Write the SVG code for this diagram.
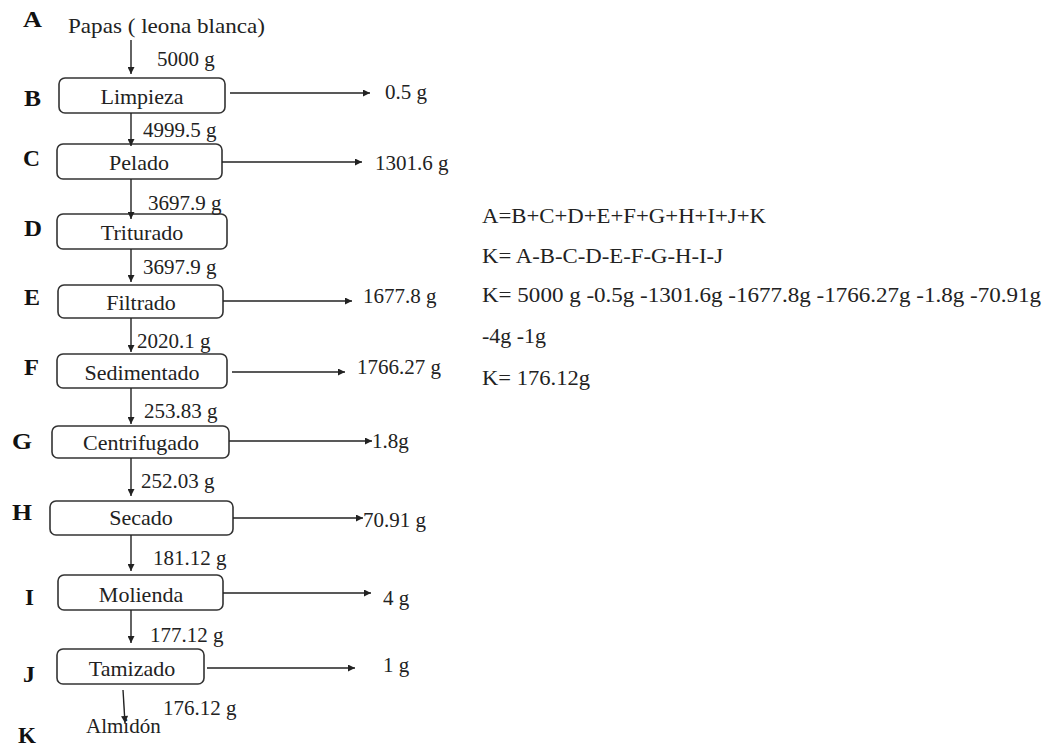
<svg xmlns="http://www.w3.org/2000/svg" width="1045" height="747" viewBox="0 0 1045 747">
<defs>
<style>
text{font-family:"Liberation Serif","Times New Roman",serif;fill:#222}
.lt{font-size:23px;font-weight:bold;fill:#111}
.nd{font-size:22px;text-anchor:middle}
.q{font-size:21px}
.eq{font-size:20px}
.box{fill:#fff;stroke:#333;stroke-width:1.6}
.ar{stroke:#222;stroke-width:1.4;fill:none;marker-end:url(#ah)}
</style>
<marker id="ah" viewBox="0 0 10 10" refX="10" refY="5" markerWidth="8" markerHeight="7" markerUnits="userSpaceOnUse" orient="auto">
<path d="M0,0 L10,5 L0,10 z" fill="#222"/>
</marker>
</defs>
<rect width="1045" height="747" fill="#fff"/>
<g id="letters">
<text class="lt" x="23" y="27" textLength="19" lengthAdjust="spacingAndGlyphs">A</text>
<text class="lt" x="24" y="106" textLength="17" lengthAdjust="spacingAndGlyphs">B</text>
<text class="lt" x="23" y="166" textLength="17" lengthAdjust="spacingAndGlyphs">C</text>
<text class="lt" x="24" y="236" textLength="18" lengthAdjust="spacingAndGlyphs">D</text>
<text class="lt" x="24" y="305" textLength="16" lengthAdjust="spacingAndGlyphs">E</text>
<text class="lt" x="24" y="375" textLength="15" lengthAdjust="spacingAndGlyphs">F</text>
<text class="lt" x="12" y="449" textLength="20" lengthAdjust="spacingAndGlyphs">G</text>
<text class="lt" x="12" y="520" textLength="20" lengthAdjust="spacingAndGlyphs">H</text>
<text class="lt" x="25" y="605" textLength="9" lengthAdjust="spacingAndGlyphs">I</text>
<text class="lt" x="23" y="682" textLength="12" lengthAdjust="spacingAndGlyphs">J</text>
<text class="lt" x="18" y="743" textLength="18" lengthAdjust="spacingAndGlyphs">K</text>
</g>
<g id="nodeA"><text x="68" y="33" style="font-size:21px" textLength="197" lengthAdjust="spacingAndGlyphs">Papas ( leona blanca)</text></g>
<g id="nodeB"><rect class="box" x="59" y="78" width="166" height="35" rx="6"/><text class="nd" x="142" y="104">Limpieza</text></g>
<g id="nodeC"><rect class="box" x="57" y="144" width="165" height="35" rx="6"/><text class="nd" x="139" y="170">Pelado</text></g>
<g id="nodeD"><rect class="box" x="57" y="214" width="170" height="35" rx="6"/><text class="nd" x="142" y="240">Triturado</text></g>
<g id="nodeE"><rect class="box" x="58" y="285" width="165" height="33" rx="6"/><text class="nd" x="141" y="310">Filtrado</text></g>
<g id="nodeF"><rect class="box" x="57" y="354" width="170" height="34" rx="6"/><text class="nd" x="142" y="380">Sedimentado</text></g>
<g id="nodeG"><rect class="box" x="52" y="426" width="177" height="32" rx="6"/><text class="nd" x="141" y="450">Centrifugado</text></g>
<g id="nodeH"><rect class="box" x="50" y="501" width="183" height="34" rx="6"/><text class="nd" x="141" y="525">Secado</text></g>
<g id="nodeI"><rect class="box" x="58" y="575" width="165" height="35" rx="6"/><text class="nd" x="141" y="602">Molienda</text></g>
<g id="nodeJ"><rect class="box" x="57" y="649" width="147" height="35" rx="6"/><text class="nd" x="132" y="676">Tamizado</text></g>
<g id="nodeK"><text x="86" y="733" style="font-size:21px">Almidón</text></g>
<g id="connectors">
<line class="ar" x1="131" y1="40" x2="131" y2="74"/>
<line class="ar" x1="131" y1="113" x2="131" y2="146"/>
<line class="ar" x1="131" y1="179" x2="131" y2="219"/>
<line class="ar" x1="131" y1="249" x2="131" y2="282"/>
<line class="ar" x1="131" y1="318" x2="131" y2="352"/>
<line class="ar" x1="131" y1="388" x2="131" y2="424"/>
<line class="ar" x1="131" y1="458" x2="131" y2="496"/>
<line class="ar" x1="131" y1="535" x2="131" y2="571"/>
<line class="ar" x1="131" y1="610" x2="131" y2="643"/>
<line class="ar" x1="123" y1="690" x2="125" y2="723"/>
<line class="ar" x1="230" y1="93" x2="370" y2="93"/>
<line class="ar" x1="222" y1="162" x2="362" y2="162"/>
<line class="ar" x1="223" y1="301" x2="352" y2="301"/>
<line class="ar" x1="232" y1="372" x2="345" y2="372"/>
<line class="ar" x1="229" y1="441" x2="372" y2="441"/>
<line class="ar" x1="233" y1="518" x2="363" y2="518"/>
<line class="ar" x1="223" y1="593" x2="371" y2="593"/>
<line class="ar" x1="207" y1="668" x2="355" y2="668"/>
</g>
<g id="quantities">
<text class="q" x="157" y="66">5000 g</text>
<text class="q" x="143" y="137">4999.5 g</text>
<text class="q" x="148" y="210">3697.9 g</text>
<text class="q" x="143" y="274">3697.9 g</text>
<text class="q" x="137" y="348">2020.1 g</text>
<text class="q" x="144" y="418">253.83 g</text>
<text class="q" x="141" y="488">252.03 g</text>
<text class="q" x="153" y="565">181.12 g</text>
<text class="q" x="150" y="642">177.12 g</text>
<text class="q" x="163" y="715">176.12 g</text>
<text class="q" x="385" y="99">0.5 g</text>
<text class="q" x="375" y="170">1301.6 g</text>
<text class="q" x="363" y="303">1677.8 g</text>
<text class="q" x="357" y="374">1766.27 g</text>
<text class="q" x="372" y="448">1.8g</text>
<text class="q" x="363" y="527">70.91 g</text>
<text class="q" x="383" y="605">4 g</text>
<text class="q" x="383" y="672">1 g</text>
</g>
<g id="equations">
<text class="eq" x="482" y="223" textLength="284" lengthAdjust="spacingAndGlyphs">A=B+C+D+E+F+G+H+I+J+K</text>
<text class="eq" x="482" y="263" textLength="241" lengthAdjust="spacingAndGlyphs">K= A-B-C-D-E-F-G-H-I-J</text>
<text class="eq" x="482" y="302" textLength="559" lengthAdjust="spacingAndGlyphs">K= 5000 g -0.5g -1301.6g -1677.8g -1766.27g -1.8g -70.91g</text>
<text class="eq" x="482" y="343" textLength="64" lengthAdjust="spacingAndGlyphs">-4g -1g</text>
<text class="eq" x="482" y="385" textLength="108" lengthAdjust="spacingAndGlyphs">K= 176.12g</text>
</g>
</svg>
